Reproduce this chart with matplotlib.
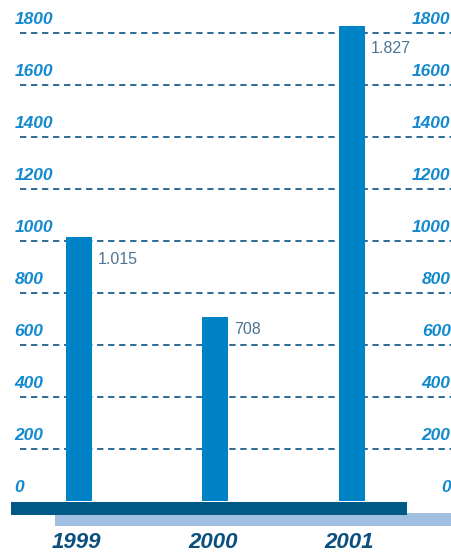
import matplotlib
matplotlib.use("Agg")
import matplotlib.pyplot as plt
from matplotlib.patches import Rectangle

years = ["1999", "2000", "2001"]
values = [1015, 708, 1827]
value_labels = ["1.015", "708", "1.827"]
yticks = [0, 200, 400, 600, 800, 1000, 1200, 1400, 1600, 1800]

BAR = "#0082c6"
GRID = "#1d5f8c"
TICK = "#1389d0"
DARK = "#005a87"
LIGHT = "#a0bee0"
VAL = "#4d7493"
YEAR = "#0b4f7e"

W, H = 452, 554
fig = plt.figure(figsize=(W / 100, H / 100), dpi=100)
# axes: y=0 -> pixel 501, y=1800 -> pixel 33 ; x spans full width
ax = fig.add_axes([0, (H - 501) / H, 1, (501 - 33) / H])
pxu = 136.5  # pixels per category unit
ax.set_xlim(-79 / pxu, (W - 79) / pxu)
ax.set_ylim(0, 1800)
ax.axis("off")
upp = 1800 / 468.0  # value units per pixel

x = list(range(len(years)))

# dashed grid lines
for t in yticks[1:]:
    ax.plot([(20 - 79) / pxu, (W - 79) / pxu], [t, t], color=GRID, lw=1.3,
            dashes=(3.5, 2.6), zorder=1, clip_on=False, solid_capstyle="butt",
            dash_capstyle="butt")

# bars
bars = ax.bar(x, values, width=26 / pxu, color=BAR, zorder=2)
for b in bars:
    b.set_clip_on(False)

# base bars
ax.add_patch(Rectangle(((55 - 79) / pxu, -96), (W - 55) / pxu, 13 * upp,
                       color=LIGHT, clip_on=False, zorder=3, lw=0))
ax.add_patch(Rectangle(((11 - 79) / pxu, -54), (407 - 11) / pxu, 13 * upp,
                       color=DARK, clip_on=False, zorder=4, lw=0))

# tick labels on both sides
for t in yticks:
    ax.annotate(str(t), xy=(0, t), xycoords=("axes fraction", "data"),
                xytext=(10.5, 4.3), textcoords="offset points",
                ha="left", va="bottom", color=TICK, fontsize=12.5,
                fontweight="bold", fontstyle="italic", family="Liberation Sans",
                annotation_clip=False)
    ax.annotate(str(t), xy=(1, t), xycoords=("axes fraction", "data"),
                xytext=(-1, 4.3), textcoords="offset points",
                ha="right", va="bottom", color=TICK, fontsize=12.5,
                fontweight="bold", fontstyle="italic", family="Liberation Sans",
                annotation_clip=False)

# value labels
dys = [-10.5, -3.5, -10.5]
for xi, v, lab, dy in zip(x, values, value_labels, dys):
    ax.annotate(lab, xy=(xi + 13 / pxu, v), xytext=(4, dy),
                textcoords="offset points", ha="left", va="top",
                color=VAL, fontsize=11.5, family="Liberation Sans",
                annotation_clip=False)

# year labels
for xi, yr in zip(x, years):
    ax.annotate(yr, xy=(xi, 0), xytext=(-2, -22.5), textcoords="offset points",
                ha="center", va="top", color=YEAR, fontsize=16,
                fontweight="bold", fontstyle="italic", family="Liberation Sans",
                annotation_clip=False)

fig.savefig("out.png", dpi=100)
